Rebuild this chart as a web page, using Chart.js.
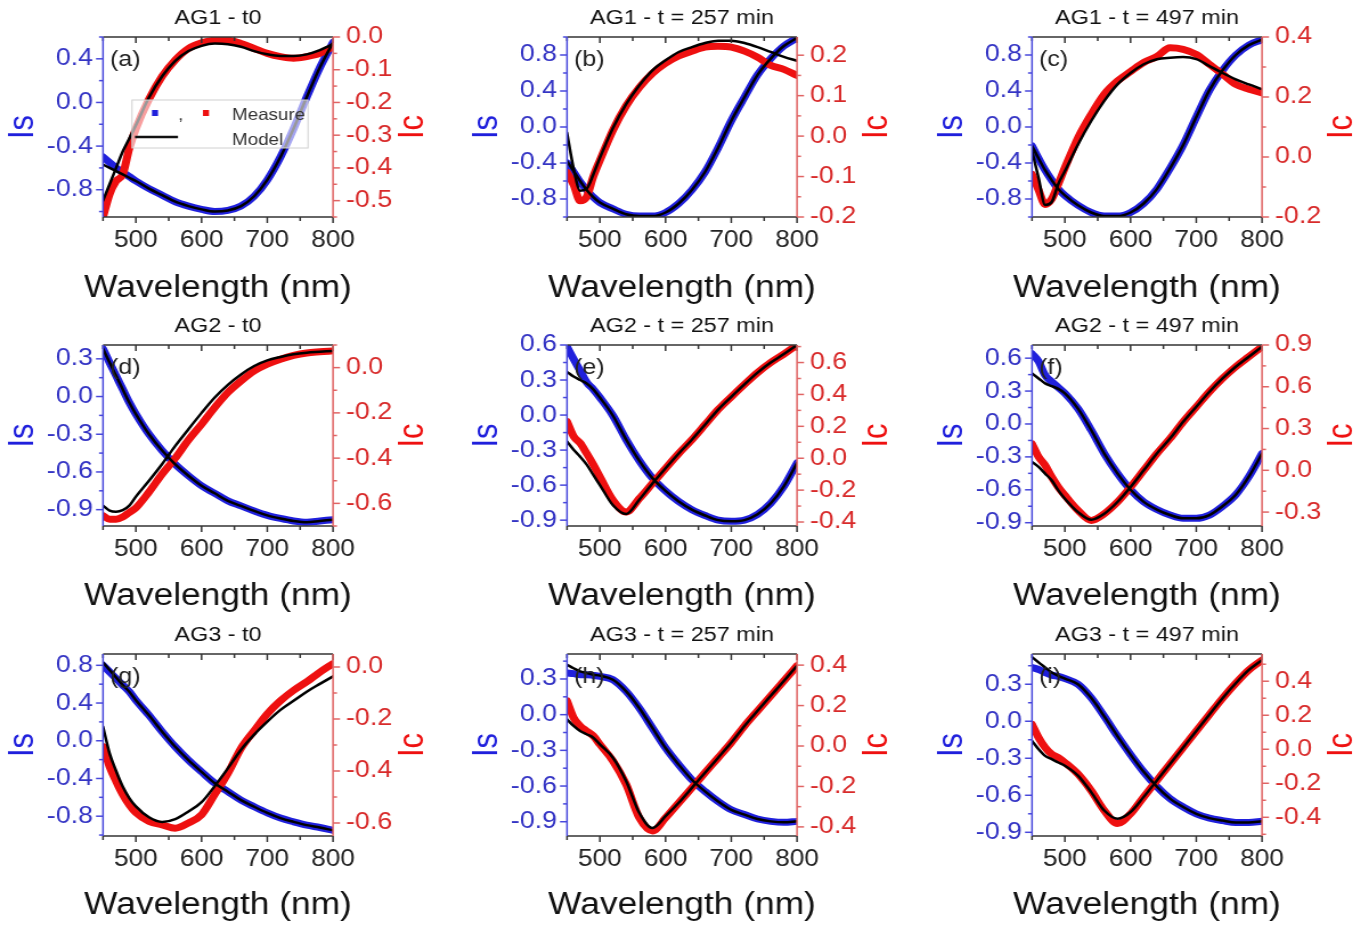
<!DOCTYPE html>
<html>
<head>
<meta charset="utf-8">
<script src="https://cdn.jsdelivr.net/npm/chart.js@4.4.0/dist/chart.umd.min.js"></script>
<style>
  html, body { margin: 0; padding: 0; background: #fff; overflow: hidden; width: 1364px; height: 926px; }
  .panel { position: absolute; transform-origin: 0 0; }
</style>
</head>
<body>
<script>
// wavelengths (nm) shared by every series
const wl = [450, 460, 470, 480, 490, 500, 520, 540, 560, 580, 600, 620, 640, 660, 680, 700, 720, 740, 760, 780, 800];
const xTicks = [500, 600, 700, 800];

// AG1 - t0
const isMeasA  = [-0.50, -0.55, -0.60, -0.64, -0.68, -0.72, -0.79, -0.85, -0.91, -0.95, -0.98, -1.00, -0.99, -0.95, -0.86, -0.71, -0.50, -0.24, 0.05, 0.32, 0.55];
const isModelA = [-0.57, -0.60, -0.63, -0.66, -0.69, -0.72, -0.79, -0.85, -0.91, -0.95, -0.98, -1.00, -0.99, -0.95, -0.86, -0.71, -0.50, -0.24, 0.05, 0.32, 0.55];
const icMeasA  = [-0.55, -0.48, -0.44, -0.42, -0.34, -0.28, -0.19, -0.12, -0.07, -0.035, -0.018, -0.01, -0.01, -0.02, -0.035, -0.05, -0.06, -0.065, -0.06, -0.05, -0.03];
const icModelA = [-0.50, -0.45, -0.40, -0.35, -0.31, -0.27, -0.185, -0.12, -0.073, -0.043, -0.027, -0.02, -0.022, -0.03, -0.043, -0.053, -0.058, -0.058, -0.053, -0.04, -0.022];
const isTicksA = [-0.8, -0.4, 0.0, 0.4];
const icTicksA = [-0.5, -0.4, -0.3, -0.2, -0.1, 0.0];

// AG1 - t = 257 min
const isMeasB  = [-0.40, -0.50, -0.61, -0.70, -0.78, -0.84, -0.91, -0.97, -0.99, -0.99, -0.95, -0.85, -0.70, -0.50, -0.23, 0.07, 0.33, 0.58, 0.76, 0.90, 0.99];
const isModelB = [-0.38, -0.49, -0.60, -0.70, -0.78, -0.84, -0.91, -0.97, -0.99, -0.99, -0.95, -0.85, -0.70, -0.50, -0.23, 0.07, 0.33, 0.58, 0.76, 0.90, 0.99];
const icMeasB  = [-0.09, -0.12, -0.16, -0.15, -0.10, -0.06, 0.015, 0.075, 0.12, 0.155, 0.18, 0.198, 0.21, 0.22, 0.222, 0.22, 0.21, 0.195, 0.175, 0.165, 0.15];
const icModelB = [0.008, -0.08, -0.135, -0.13, -0.095, -0.054, 0.02, 0.079, 0.125, 0.1625, 0.1875, 0.208, 0.22, 0.23, 0.236, 0.236, 0.23, 0.22, 0.208, 0.196, 0.186];
const isTicksB = [-0.8, -0.4, 0.0, 0.4, 0.8];
const icTicksB = [-0.2, -0.1, 0.0, 0.1, 0.2];

// AG1 - t = 497 min
const isMeasC  = [-0.21, -0.35, -0.48, -0.59, -0.69, -0.76, -0.87, -0.95, -0.99, -0.99, -0.95, -0.85, -0.69, -0.46, -0.20, 0.11, 0.41, 0.63, 0.80, 0.91, 0.97];
const isModelC = [-0.21, -0.35, -0.48, -0.59, -0.69, -0.76, -0.87, -0.95, -0.99, -0.99, -0.95, -0.85, -0.69, -0.46, -0.20, 0.11, 0.41, 0.63, 0.80, 0.91, 0.97];
const icMeasC  = [-0.058, -0.11, -0.158, -0.14, -0.09, -0.036, 0.064, 0.142, 0.209, 0.253, 0.285, 0.315, 0.335, 0.364, 0.359, 0.342, 0.309, 0.276, 0.242, 0.226, 0.214];
const icModelC = [0.02, -0.07, -0.16, -0.15, -0.09, -0.047, 0.042, 0.12, 0.187, 0.242, 0.28, 0.309, 0.326, 0.331, 0.333, 0.326, 0.303, 0.28, 0.259, 0.242, 0.226];
const isTicksC = [-0.8, -0.4, 0.0, 0.4, 0.8];
const icTicksC = [-0.2, 0.0, 0.2, 0.4];

// AG2 - t0
const isMeasD  = [0.38, 0.27, 0.165, 0.058, -0.048, -0.14, -0.30, -0.43, -0.54, -0.63, -0.71, -0.77, -0.83, -0.87, -0.91, -0.945, -0.97, -0.99, -1.0, -0.99, -0.98];
const isModelD = [0.38, 0.27, 0.165, 0.058, -0.048, -0.14, -0.30, -0.43, -0.54, -0.63, -0.71, -0.77, -0.83, -0.87, -0.91, -0.945, -0.97, -0.99, -1.0, -0.99, -0.98];
const icMeasD  = [-0.654, -0.67, -0.67, -0.66, -0.64, -0.62, -0.55, -0.47, -0.40, -0.32, -0.25, -0.176, -0.11, -0.059, -0.015, 0.015, 0.037, 0.054, 0.065, 0.07, 0.074];
const icModelD = [-0.61, -0.632, -0.637, -0.63, -0.61, -0.57, -0.50, -0.426, -0.346, -0.272, -0.20, -0.132, -0.076, -0.03, 0.007, 0.032, 0.047, 0.059, 0.066, 0.07, 0.074];
const isTicksD = [-0.9, -0.6, -0.3, 0.0, 0.3];
const icTicksD = [-0.6, -0.4, -0.2, 0.0];

// AG2 - t = 257 min
const isMeasE  = [0.585, 0.48, 0.38, 0.28, 0.22, 0.15, -0.006, -0.21, -0.39, -0.54, -0.65, -0.74, -0.81, -0.86, -0.90, -0.91, -0.90, -0.85, -0.755, -0.61, -0.41];
const isModelE = [0.37, 0.33, 0.30, 0.27, 0.22, 0.15, -0.006, -0.21, -0.39, -0.54, -0.65, -0.74, -0.81, -0.86, -0.90, -0.91, -0.90, -0.85, -0.755, -0.61, -0.41];
const icMeasE  = [0.23, 0.137, 0.095, 0.03, -0.04, -0.116, -0.263, -0.337, -0.253, -0.158, -0.063, 0.03, 0.116, 0.21, 0.305, 0.385, 0.463, 0.537, 0.60, 0.653, 0.71];
const icModelE = [0.105, 0.053, 0.01, -0.04, -0.105, -0.168, -0.295, -0.35, -0.26, -0.158, -0.063, 0.03, 0.116, 0.21, 0.305, 0.385, 0.463, 0.537, 0.60, 0.653, 0.71];
const isTicksE = [-0.9, -0.6, -0.3, 0.0, 0.3, 0.6];
const icTicksE = [-0.4, -0.2, 0.0, 0.2, 0.4, 0.6];

// AG2 - t = 497 min
const isMeasF  = [0.64, 0.57, 0.445, 0.385, 0.333, 0.28, 0.14, -0.055, -0.27, -0.45, -0.60, -0.71, -0.78, -0.83, -0.86, -0.86, -0.83, -0.75, -0.645, -0.48, -0.27];
const isModelF = [0.46, 0.415, 0.37, 0.345, 0.32, 0.28, 0.14, -0.055, -0.27, -0.45, -0.60, -0.71, -0.78, -0.83, -0.86, -0.86, -0.83, -0.75, -0.645, -0.48, -0.27];
const icMeasF  = [0.19, 0.096, 0.036, -0.048, -0.12, -0.18, -0.288, -0.36, -0.312, -0.228, -0.12, 0.0, 0.12, 0.228, 0.348, 0.456, 0.564, 0.66, 0.744, 0.816, 0.888];
const icModelF = [0.06, 0.024, -0.024, -0.072, -0.144, -0.204, -0.30, -0.355, -0.312, -0.228, -0.12, 0.0, 0.12, 0.228, 0.348, 0.456, 0.564, 0.66, 0.744, 0.816, 0.888];
const isTicksF = [-0.9, -0.6, -0.3, 0.0, 0.3, 0.6];
const icTicksF = [-0.3, 0.0, 0.3, 0.6, 0.9];

// AG3 - t0
const isMeasG  = [0.80, 0.73, 0.66, 0.59, 0.52, 0.43, 0.27, 0.096, -0.064, -0.205, -0.33, -0.45, -0.54, -0.63, -0.70, -0.765, -0.82, -0.86, -0.895, -0.92, -0.95];
const isModelG = [0.83, 0.75, 0.67, 0.59, 0.52, 0.43, 0.27, 0.096, -0.064, -0.205, -0.33, -0.45, -0.54, -0.63, -0.70, -0.765, -0.82, -0.86, -0.895, -0.92, -0.95];
const icMeasG  = [-0.306, -0.383, -0.44, -0.49, -0.53, -0.56, -0.594, -0.607, -0.62, -0.60, -0.568, -0.49, -0.409, -0.313, -0.245, -0.18, -0.13, -0.09, -0.057, -0.02, 0.013];
const icModelG = [-0.23, -0.332, -0.40, -0.46, -0.504, -0.536, -0.578, -0.596, -0.585, -0.556, -0.52, -0.458, -0.39, -0.318, -0.26, -0.21, -0.165, -0.13, -0.095, -0.065, -0.036];
const isTicksG = [-0.8, -0.4, 0.0, 0.4, 0.8];
const icTicksG = [-0.6, -0.4, -0.2, 0.0];

// AG3 - t = 257 min
const isMeasH  = [0.35, 0.345, 0.336, 0.336, 0.33, 0.322, 0.294, 0.196, 0.056, -0.112, -0.28, -0.42, -0.547, -0.645, -0.73, -0.80, -0.84, -0.877, -0.897, -0.905, -0.897];
const isModelH = [0.42, 0.39, 0.364, 0.35, 0.336, 0.328, 0.294, 0.196, 0.056, -0.112, -0.28, -0.42, -0.547, -0.645, -0.73, -0.80, -0.84, -0.877, -0.897, -0.905, -0.897];
const icMeasH  = [0.223, 0.14, 0.099, 0.074, 0.05, 0.008, -0.074, -0.19, -0.355, -0.42, -0.355, -0.281, -0.207, -0.132, -0.058, 0.017, 0.099, 0.174, 0.248, 0.322, 0.397];
const icModelH = [0.132, 0.099, 0.074, 0.058, 0.041, 0.008, -0.058, -0.174, -0.33, -0.405, -0.347, -0.281, -0.207, -0.132, -0.058, 0.017, 0.099, 0.174, 0.248, 0.322, 0.397];
const isTicksH = [-0.9, -0.6, -0.3, 0.0, 0.3];
const icTicksH = [-0.4, -0.2, 0.0, 0.2, 0.4];

// AG3 - t = 497 min
const isMeasI  = [0.436, 0.42, 0.395, 0.374, 0.363, 0.346, 0.30, 0.19, 0.04, -0.12, -0.27, -0.41, -0.53, -0.627, -0.695, -0.75, -0.785, -0.805, -0.82, -0.82, -0.81];
const isModelI = [0.52, 0.477, 0.436, 0.395, 0.368, 0.346, 0.30, 0.19, 0.04, -0.12, -0.27, -0.41, -0.53, -0.627, -0.695, -0.75, -0.785, -0.805, -0.82, -0.82, -0.81];
const icMeasI  = [0.146, 0.068, 0.01, -0.029, -0.049, -0.078, -0.146, -0.243, -0.36, -0.437, -0.379, -0.28, -0.184, -0.087, 0.01, 0.107, 0.204, 0.30, 0.388, 0.466, 0.524];
const icModelI = [0.049, 0.0, -0.039, -0.058, -0.078, -0.097, -0.155, -0.252, -0.36, -0.408, -0.369, -0.28, -0.184, -0.087, 0.01, 0.107, 0.204, 0.30, 0.388, 0.466, 0.524];
const isTicksI = [-0.9, -0.6, -0.3, 0.0, 0.3];
const icTicksI = [-0.4, -0.2, 0.0, 0.2, 0.4];

const panels = [
  { tag: "(a)", title: "AG1 - t0",          row: 0, col: 0, isMeas: isMeasA, isModel: isModelA, icMeas: icMeasA, icModel: icModelA, isR: [-1.05, 0.6],  isT: isTicksA, icR: [-0.55, 0.0],   icT: icTicksA, legend: true },
  { tag: "(b)", title: "AG1 - t = 257 min", row: 0, col: 1, isMeas: isMeasB, isModel: isModelB, icMeas: icMeasB, icModel: icModelB, isR: [-1.0, 1.0],   isT: isTicksB, icR: [-0.2, 0.245],  icT: icTicksB },
  { tag: "(c)", title: "AG1 - t = 497 min", row: 0, col: 2, isMeas: isMeasC, isModel: isModelC, icMeas: icMeasC, icModel: icModelC, isR: [-1.0, 1.0],   isT: isTicksC, icR: [-0.2, 0.4],    icT: icTicksC },
  { tag: "(d)", title: "AG2 - t0",          row: 1, col: 0, isMeas: isMeasD, isModel: isModelD, icMeas: icMeasD, icModel: icModelD, isR: [-1.03, 0.41], isT: isTicksD, icR: [-0.70, 0.1],   icT: icTicksD },
  { tag: "(e)", title: "AG2 - t = 257 min", row: 1, col: 1, isMeas: isMeasE, isModel: isModelE, icMeas: icMeasE, icModel: icModelE, isR: [-0.95, 0.6],  isT: isTicksE, icR: [-0.425, 0.71], icT: icTicksE },
  { tag: "(f)", title: "AG2 - t = 497 min", row: 1, col: 2, isMeas: isMeasF, isModel: isModelF, icMeas: icMeasF, icModel: icModelF, isR: [-0.93, 0.72], isT: isTicksF, icR: [-0.40, 0.9],   icT: icTicksF },
  { tag: "(g)", title: "AG3 - t0",          row: 2, col: 0, isMeas: isMeasG, isModel: isModelG, icMeas: icMeasG, icModel: icModelG, isR: [-1.01, 0.92], isT: isTicksG, icR: [-0.65, 0.05],  icT: icTicksG },
  { tag: "(h)", title: "AG3 - t = 257 min", row: 2, col: 1, isMeas: isMeasH, isModel: isModelH, icMeas: icMeasH, icModel: icModelH, isR: [-1.02, 0.51], isT: isTicksH, icR: [-0.445, 0.455], icT: icTicksH },
  { tag: "(i)", title: "AG3 - t = 497 min", row: 2, col: 2, isMeas: isMeasI, isModel: isModelI, icMeas: icMeasI, icModel: icModelI, isR: [-0.93, 0.545], isT: isTicksI, icR: [-0.51, 0.56], icT: icTicksI },
];

// the original figure is stretched sideways, so each canvas is squeezed and scaled back with CSS
const S = 1.14;
const colLeft = [103, 567, 1032];
const rowTop = [37, 345, 654];
const rowH = [180, 181, 182];
const H = 311, TOP = 37;
const AXW = 103 / S;          // width of each y axis, canvas units
const PW = 230 / S;           // plot width, canvas units
const WC = 400;               // canvas width
const PADR = WC - 2 * AXW - PW;
const X_TITLE = "Wavelength (nm)";

const BLUE = "#2020dc";
const BLUE_TXT = "#3434c4";
const BLUE_AX = "#4848dc";
const RED = "#ee1010";
const RED_TXT = "#d82a2a";
const RED_AX = "#e06464";
const FONT = "'Liberation Sans', Arial, sans-serif";

Chart.defaults.font.family = FONT;

function pts(arr) {
  return wl.map((x, i) => ({ x: x, y: arr[i] }));
}

function minorTicks(ticks, min, max) {
  const step = ticks[1] - ticks[0];
  const out = [];
  for (let v = ticks[0] - step / 2; v >= min - 1e-9; v -= step) out.push(v);
  ticks.forEach(t => { if (t + step / 2 <= max + 1e-9) out.push(t + step / 2); });
  return out;
}

function seg(ctx, x1, y1, x2, y2) {
  ctx.beginPath();
  ctx.moveTo(x1, y1);
  ctx.lineTo(x2, y2);
  ctx.stroke();
}

function decoPlugin(p) {
  return {
    id: "deco",
    afterDraw(chart) {
      const { ctx, chartArea: a, scales } = chart;
      const sx = scales.x, sl = scales.yIs, sr = scales.yIc;
      const tk = 7 / S, tm = 4 / S;
      ctx.save();
      ctx.lineWidth = 1.5;

      // x axis: ticks every 50 nm, outward at bottom, inward at top
      ctx.strokeStyle = "#333";
      for (let v = 450; v <= 800; v += 50) {
        const x = sx.getPixelForValue(v);
        const len = v % 100 === 0 ? 6 : 4;
        seg(ctx, x, a.bottom, x, a.bottom + len);
        seg(ctx, x, a.top, x, a.top + len);
      }
      seg(ctx, a.left, a.top, a.right, a.top);
      seg(ctx, a.left, a.bottom, a.right, a.bottom);

      // x axis title, drawn here so it is not squeezed to the plot width
      ctx.fillStyle = "#111";
      ctx.font = "31px " + FONT;
      ctx.textAlign = "center";
      ctx.textBaseline = "middle";
      ctx.fillText(X_TITLE, (a.left + a.right) / 2, chart.height - 23);

      // left axis (Is)
      ctx.strokeStyle = BLUE_AX;
      seg(ctx, a.left, a.top, a.left, a.bottom);
      p.isT.forEach(v => { const y = sl.getPixelForValue(v); seg(ctx, a.left - tk, y, a.left, y); });
      minorTicks(p.isT, p.isR[0], p.isR[1]).forEach(v => { const y = sl.getPixelForValue(v); seg(ctx, a.left - tm, y, a.left, y); });

      // right axis (Ic)
      ctx.strokeStyle = RED_AX;
      seg(ctx, a.right, a.top, a.right, a.bottom);
      p.icT.forEach(v => { const y = sr.getPixelForValue(v); seg(ctx, a.right, y, a.right + tk, y); });
      minorTicks(p.icT, p.icR[0], p.icR[1]).forEach(v => { const y = sr.getPixelForValue(v); seg(ctx, a.right, y, a.right + tm, y); });

      // right axis title, reading bottom to top
      ctx.save();
      ctx.translate(a.right + 80 / S, (a.top + a.bottom) / 2);
      ctx.rotate(-Math.PI / 2);
      ctx.fillStyle = RED;
      ctx.font = "31px " + FONT;
      ctx.textAlign = "center";
      ctx.textBaseline = "middle";
      ctx.fillText("Ic", 0, 0);
      ctx.restore();

      // panel tag
      ctx.fillStyle = "#222";
      ctx.font = "22px " + FONT;
      ctx.textAlign = "left";
      ctx.textBaseline = "middle";
      ctx.fillText(p.tag, a.left + 7 / S, a.top + 23);

      if (p.legend) {
        const lx = a.left + 29 / S, ly = a.top + 63;
        ctx.fillStyle = "rgba(255,255,255,0.6)";
        ctx.fillRect(lx, ly, 176 / S, 48);
        ctx.strokeStyle = "#d0d0d0";
        ctx.lineWidth = 1;
        ctx.strokeRect(lx, ly, 176 / S, 48);
        ctx.fillStyle = BLUE;
        ctx.fillRect(lx + 20 / S, ly + 10, 6 / S, 6);
        ctx.fillStyle = RED;
        ctx.fillRect(lx + 71 / S, ly + 10, 6 / S, 6);
        ctx.fillStyle = "#333";
        ctx.font = "16.5px " + FONT;
        ctx.textBaseline = "alphabetic";
        ctx.fillText(",", lx + 46 / S, ly + 20);
        ctx.fillText("Measure", lx + 100 / S, ly + 20);
        ctx.fillText("Model", lx + 100 / S, ly + 45);
        ctx.strokeStyle = "#111";
        ctx.lineWidth = 2.5;
        seg(ctx, lx + 3 / S, ly + 37, lx + 46 / S, ly + 37);
      }
      ctx.restore();
    }
  };
}

panels.forEach(p => {
  const plotH = rowH[p.row];
  const div = document.createElement("div");
  div.className = "panel";
  div.style.left = (colLeft[p.col] - 103) + "px";
  div.style.top = (rowTop[p.row] - TOP) + "px";
  div.style.transform = "scaleX(" + S + ")";
  const canvas = document.createElement("canvas");
  canvas.width = WC;
  canvas.height = H;
  canvas.style.display = "block";
  div.appendChild(canvas);
  document.body.appendChild(div);

  const line = (arr, axis, color, width, order, label) => ({
    label: label,
    data: pts(arr),
    yAxisID: axis,
    borderColor: color,
    backgroundColor: color,
    borderWidth: width,
    pointRadius: 0,
    cubicInterpolationMode: "monotone",
    borderJoinStyle: "round",
    borderCapStyle: "round",
    order: order
  });

  new Chart(canvas, {
    type: "line",
    data: {
      datasets: [
        line(p.isMeas, "yIs", BLUE, 7, 3, "Is measure"),
        line(p.icMeas, "yIc", RED, 7, 2, "Ic measure"),
        line(p.isModel, "yIs", "#000", 2.5, 1, "Is model"),
        line(p.icModel, "yIc", "#000", 2.5, 0, "Ic model")
      ]
    },
    options: {
      responsive: false,
      animation: false,
      devicePixelRatio: 1,
      layout: { padding: { top: 0, left: 0, right: PADR, bottom: 0 } },
      plugins: {
        legend: { display: false },
        tooltip: { enabled: false },
        title: {
          display: true,
          text: p.title,
          color: "#111",
          font: { size: 20.5, weight: "normal" },
          padding: { top: 6, bottom: 6.4 }
        }
      },
      scales: {
        x: {
          type: "linear",
          min: 450,
          max: 800,
          afterBuildTicks: s => { s.ticks = xTicks.map(v => ({ value: v })); },
          afterFit: s => { s.height = H - TOP - plotH; },
          grid: { display: false, drawTicks: false },
          border: { display: false },
          ticks: { color: "#222", font: { size: 23 }, padding: 10, maxRotation: 0, autoSkip: false, callback: v => String(v) },
          title: { display: false, text: X_TITLE }
        },
        yIs: {
          type: "linear",
          position: "left",
          min: p.isR[0],
          max: p.isR[1],
          afterBuildTicks: s => { s.ticks = p.isT.map(v => ({ value: v })); },
          afterFit: s => { s.width = AXW; },
          grid: { display: false, drawTicks: false },
          border: { display: false },
          ticks: { color: BLUE_TXT, font: { size: 23.5 }, padding: 10 / S, autoSkip: false, callback: v => v.toFixed(1) },
          title: { display: true, text: "Is", color: BLUE, font: { size: 31 }, padding: { top: 1.5, bottom: 0 } }
        },
        yIc: {
          type: "linear",
          position: "right",
          min: p.icR[0],
          max: p.icR[1],
          afterBuildTicks: s => { s.ticks = p.icT.map(v => ({ value: v })); },
          afterFit: s => { s.width = AXW; },
          grid: { display: false, drawTicks: false },
          border: { display: false },
          ticks: { color: RED_TXT, font: { size: 23.5 }, padding: 13 / S, autoSkip: false, callback: v => v.toFixed(1) }
        }
      }
    },
    plugins: [decoPlugin(p)]
  });
});
</script>
</body>
</html>
